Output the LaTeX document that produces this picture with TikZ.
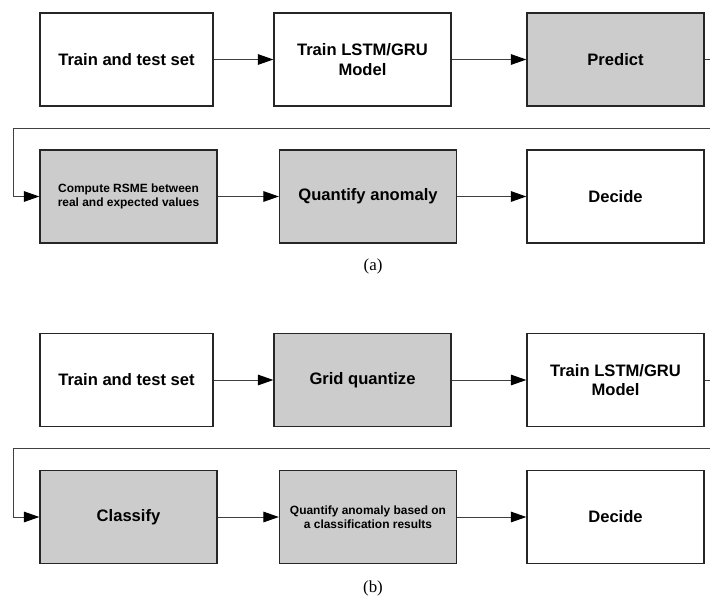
\documentclass[tikz,border=0pt]{standalone}
\usepackage{fontspec}
\setmainfont{Liberation Serif}
\setsansfont{Liberation Sans}
\usepackage{tikz}
\usetikzlibrary{arrows.meta,positioning}

\tikzset{
  blk/.style={draw=black!85,line width=0.9pt,minimum width=4.425cm,minimum height=2.325cm,
    align=center,inner sep=2pt,font=\sffamily\bfseries\fontsize{11.8}{14}\selectfont},
  grayblk/.style={blk,fill=black!20},
  smalltext/.style={font=\sffamily\bfseries\fontsize{8.5}{10}\selectfont},
  arr/.style={draw=black!75,line width=0.7pt,-{Triangle[length=11pt,width=7.5pt,color=black]}},
  subcap/.style={font=\rmfamily\fontsize{12}{14}\selectfont}
}

\begin{document}
\begin{tikzpicture}
  \useasboundingbox (0,0) rectangle (17.75,-14.95);

  % panel (a)
  \node[blk,minimum width=4.325cm] (a1) at (3.1625,-1.4875) {Train and test set};
  \node[blk] (a2) at (9.0625,-1.4875) {Train LSTM/GRU\\Model};
  \node[grayblk] (a3) at (15.3875,-1.4875) {Predict};
  \node[grayblk,smalltext] (a4) at (3.2125,-4.9125) {Compute RSME between\\real and expected values};
  \node[grayblk] (a5) at (9.2,-4.9125) {Quantify anomaly};
  \node[blk] (a6) at (15.3875,-4.9125) {Decide};
  \coordinate (aR) at (17.9,-3.2);
  \coordinate (aL) at (0.325,-3.2);
  \node[subcap] (capa) at (9.325,-6.67) {(a)};

  % panel (b)
  \begin{scope}[yshift=-8.0125cm]
    \node[blk,minimum width=4.325cm] (b1) at (3.1625,-1.4875) {Train and test set};
    \node[grayblk] (b2) at (9.0625,-1.4875) {Grid quantize};
    \node[blk] (b3) at (15.3875,-1.4875) {Train LSTM/GRU\\Model};
    \node[grayblk] (b4) at (3.2125,-4.9125) {Classify};
    \node[grayblk,smalltext] (b5) at (9.2,-4.9125) {Quantify anomaly based on\\a classification results};
    \node[blk] (b6) at (15.3875,-4.9125) {Decide};
    \coordinate (bR) at (17.9,-3.2);
    \coordinate (bL) at (0.325,-3.2);
    \node[subcap] (capb) at (9.325,-6.71) {(b)};
  \end{scope}

  \foreach \p in {a,b} {
    \draw[arr] (\p1) -- (\p2);
    \draw[arr] (\p2) -- (\p3);
    \draw[arr] (\p3.east) -| (\p R) -- (\p L) |- (\p4.west);
    \draw[arr] (\p4) -- (\p5);
    \draw[arr] (\p5) -- (\p6);
  }
\end{tikzpicture}
\end{document}
